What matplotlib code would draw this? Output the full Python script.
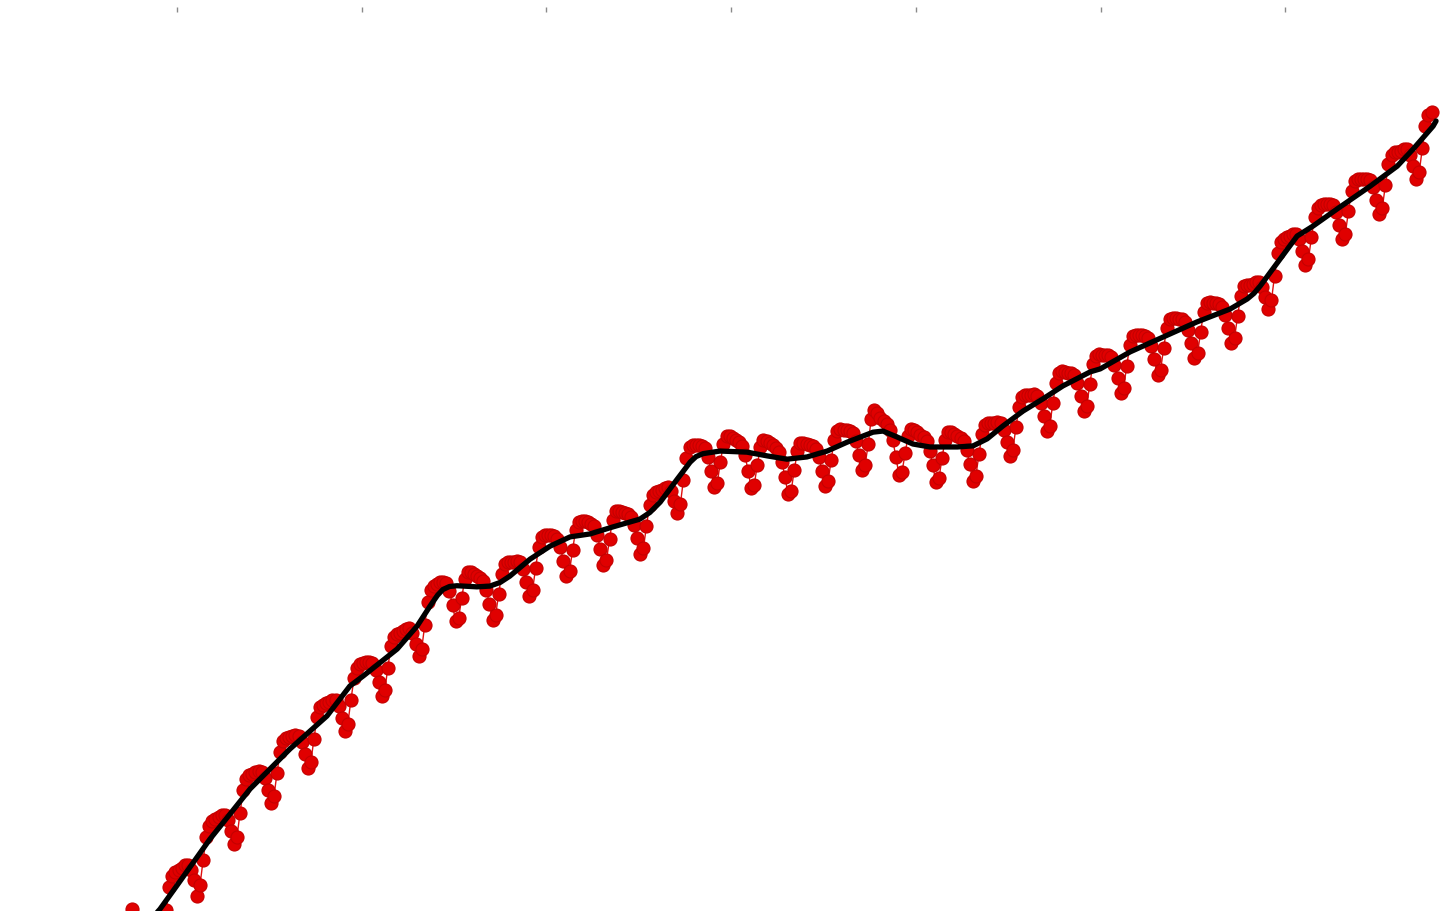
import matplotlib.pyplot as plt
import pandas as pd
import numpy as np

# monthly mean methane (ppb), Oct 1983 - Dec 2018, one row per year
ch4_ppb = [
    1650.0, 1646.0, 1645.0,
    1645.0, 1645.5, 1646.0, 1646.5, 1646.0, 1644.0, 1641.3, 1643.3, 1649.9, 1655.9, 1658.9, 1660.0,
    1660.6, 1661.2, 1661.9, 1662.0, 1660.7, 1657.8, 1653.5, 1656.6, 1663.3, 1669.4, 1672.6, 1673.7,
    1674.3, 1674.9, 1675.4, 1675.4, 1674.0, 1671.0, 1667.5, 1669.6, 1676.1, 1682.1, 1685.2, 1686.2,
    1686.6, 1687.0, 1687.3, 1687.1, 1685.5, 1682.3, 1678.6, 1680.5, 1686.8, 1692.6, 1695.5, 1696.3,
    1696.6, 1696.8, 1697.1, 1696.8, 1695.1, 1691.8, 1688.1, 1689.8, 1696.1, 1701.8, 1704.6, 1705.3,
    1705.7, 1706.1, 1706.5, 1706.4, 1704.8, 1701.7, 1698.2, 1700.1, 1706.5, 1712.4, 1715.3, 1716.2,
    1716.5, 1716.7, 1716.8, 1716.5, 1714.7, 1711.3, 1707.5, 1709.1, 1715.3, 1721.0, 1723.6, 1724.3,
    1724.7, 1725.3, 1725.8, 1726.0, 1724.6, 1721.6, 1718.3, 1720.4, 1726.9, 1733.1, 1736.2, 1737.2,
    1737.8, 1738.3, 1738.5, 1738.1, 1736.0, 1732.2, 1727.8, 1728.8, 1734.2, 1739.2, 1741.1, 1741.1,
    1740.6, 1740.1, 1739.6, 1738.7, 1736.3, 1732.4, 1728.1, 1729.4, 1735.3, 1740.7, 1743.2, 1743.7,
    1743.8, 1743.9, 1744.1, 1743.7, 1741.8, 1738.4, 1734.6, 1736.2, 1742.3, 1747.9, 1750.6, 1751.2,
    1751.2, 1751.0, 1750.8, 1750.1, 1747.9, 1744.2, 1740.0, 1741.3, 1747.1, 1752.4, 1754.7, 1755.0,
    1754.8, 1754.5, 1754.2, 1753.5, 1751.2, 1747.4, 1743.1, 1744.3, 1750.0, 1755.3, 1757.5, 1757.7,
    1757.4, 1757.1, 1756.8, 1756.1, 1753.9, 1750.2, 1746.0, 1747.5, 1753.6, 1759.2, 1761.9, 1762.6,
    1763.0, 1763.3, 1763.9, 1764.1, 1762.9, 1760.3, 1757.1, 1759.4, 1766.0, 1772.0, 1774.8, 1775.4,
    1775.4, 1775.3, 1775.2, 1774.5, 1772.2, 1768.4, 1764.1, 1765.2, 1770.8, 1775.8, 1777.8, 1777.8,
    1777.3, 1776.8, 1776.2, 1775.2, 1772.6, 1768.5, 1763.8, 1764.7, 1770.0, 1774.9, 1776.7, 1776.6,
    1775.9, 1775.3, 1774.6, 1773.5, 1770.8, 1766.7, 1762.1, 1763.1, 1768.6, 1773.7, 1775.9, 1776.0,
    1775.7, 1775.4, 1775.1, 1774.4, 1772.2, 1768.5, 1764.3, 1765.6, 1771.5, 1776.9, 1779.3, 1779.7,
    1779.5, 1779.4, 1779.3, 1778.6, 1776.5, 1772.8, 1768.6, 1769.9, 1775.6, 1782.5, 1784.8, 1784.0,
    1782.7, 1782.0, 1781.1, 1779.6, 1776.7, 1772.3, 1767.4, 1768.1, 1773.2, 1777.9, 1779.7, 1779.5,
    1778.9, 1778.2, 1777.6, 1776.5, 1773.9, 1769.9, 1765.4, 1766.4, 1771.9, 1776.9, 1778.9, 1778.9,
    1778.4, 1777.9, 1777.4, 1776.5, 1774.1, 1770.2, 1765.8, 1767.1, 1773.0, 1778.4, 1780.9, 1781.4,
    1781.4, 1781.5, 1781.7, 1781.4, 1779.6, 1776.3, 1772.5, 1774.1, 1780.2, 1785.8, 1788.4, 1789.0,
    1789.0, 1789.0, 1789.1, 1788.6, 1786.7, 1783.2, 1779.2, 1780.7, 1786.8, 1792.3, 1794.8, 1795.3,
    1795.1, 1795.0, 1794.9, 1794.4, 1792.3, 1788.7, 1784.6, 1786.0, 1791.9, 1797.3, 1799.6, 1799.9,
    1799.7, 1799.7, 1799.7, 1799.1, 1797.1, 1793.5, 1789.5, 1790.9, 1796.9, 1802.4, 1804.8, 1805.2,
    1805.2, 1805.1, 1804.9, 1804.3, 1802.2, 1798.6, 1794.4, 1795.8, 1801.7, 1807.1, 1809.4, 1809.8,
    1809.7, 1809.5, 1809.4, 1808.8, 1806.6, 1803.0, 1798.9, 1800.2, 1806.1, 1811.4, 1813.8, 1814.1,
    1813.9, 1813.7, 1813.5, 1812.8, 1810.7, 1807.0, 1802.9, 1804.3, 1810.3, 1815.8, 1818.3, 1818.8,
    1818.8, 1819.0, 1819.4, 1819.5, 1818.2, 1815.5, 1812.3, 1814.5, 1821.2, 1827.3, 1830.3, 1831.2,
    1831.6, 1832.0, 1832.5, 1832.5, 1831.0, 1827.8, 1824.0, 1825.6, 1831.6, 1837.1, 1839.6, 1840.2,
    1840.5, 1840.6, 1840.6, 1840.2, 1838.3, 1834.9, 1831.0, 1832.5, 1838.6, 1844.2, 1846.8, 1847.4,
    1847.2, 1847.3, 1847.4, 1847.0, 1845.1, 1841.7, 1837.9, 1839.5, 1845.6, 1851.3, 1853.9, 1854.5,
    1854.5, 1855.0, 1855.4, 1855.3, 1853.8, 1850.8, 1847.2, 1849.2, 1855.6, 1861.6, 1864.5, 1865.4,
]

# deseasonalised trend
trend_year = [1984.0, 1984.54, 1985.0, 1985.89, 1986.98, 1988.06, 1989.06, 1989.68, 1990.04,
              1990.96, 1991.5, 1991.85, 1992.05, 1992.2, 1992.38, 1992.58, 1993.12, 1993.47,
              1993.75, 1994.01, 1994.56, 1995.1, 1995.64, 1996.18, 1996.8, 1997.53, 1997.8,
              1998.08, 1998.54, 1998.89, 1999.05, 1999.24, 1999.7, 2000.43, 2000.97, 2001.51,
              2002.05, 2002.6, 2003.14, 2003.84, 2004.11, 2004.49, 2004.92, 2005.38, 2006.12,
              2006.55, 2006.93, 2007.36, 2007.9, 2008.44, 2008.98, 2009.72, 2009.99, 2010.8,
              2011.69, 2012.61, 2013.51, 2013.97, 2014.15, 2014.32, 2014.86, 2015.32, 2015.75,
              2016.4, 2017.3, 2018.03, 2018.46, 2019.0, 2019.08]
trend_ppb = [1644.0, 1650.0, 1656.4, 1668.9, 1682.5, 1693.3, 1702.2, 1710.3, 1713.0,
             1720.3, 1726.5, 1731.9, 1734.8, 1736.4, 1737.2, 1737.4, 1737.1, 1737.3,
             1738.3, 1740.0, 1744.6, 1748.1, 1750.6, 1751.4, 1753.3, 1755.4, 1757.2,
             1760.0, 1766.2, 1770.8, 1772.3, 1773.1, 1773.8, 1773.5, 1772.5, 1771.6,
             1772.2, 1773.8, 1776.2, 1778.9, 1779.2, 1777.6, 1775.7, 1774.9, 1774.9,
             1775.2, 1777.1, 1780.6, 1784.6, 1787.9, 1791.4, 1795.2, 1796.0, 1800.6,
             1804.6, 1808.7, 1812.2, 1814.9, 1816.4, 1818.4, 1825.7, 1831.9, 1834.6,
             1839.2, 1845.4, 1850.8, 1855.4, 1861.6, 1863.0]

tick_years = [1985, 1990, 1995, 2000, 2005, 2010, 2015]

# decimal year at the middle of each month
months = pd.date_range('1983-10-01', periods=len(ch4_ppb), freq='MS')
t = months.year + (months.month - 0.5) / 12

fig = plt.figure(figsize=(14.56, 9.12), dpi=100)
ax = fig.add_axes([0, 0, 1, 904 / 912])

ax.plot(t, ch4_ppb, '-', color='#e01010', lw=1.0, zorder=2)
ax.plot(t, ch4_ppb, 'o', color='#e00000', markeredgecolor='#c40000',
        markersize=9.4, markeredgewidth=0.8, zorder=3)
ax.plot(trend_year, trend_ppb, color='black', lw=3.8,
        solid_joinstyle='round', solid_capstyle='round', zorder=4)

ax.set_xlim(1980.21, 2019.62)
ax.set_ylim(1649.5, 1893.8)
ax.set_xticks(tick_years)
ax.set_xticklabels([])
ax.set_yticks([])
ax.tick_params(axis='x', top=True, bottom=False, direction='in',
               length=3.5, width=1, color='#8a8a8a')
for s in ax.spines.values():
    s.set_visible(False)

fig.savefig('out.png', dpi=100)
